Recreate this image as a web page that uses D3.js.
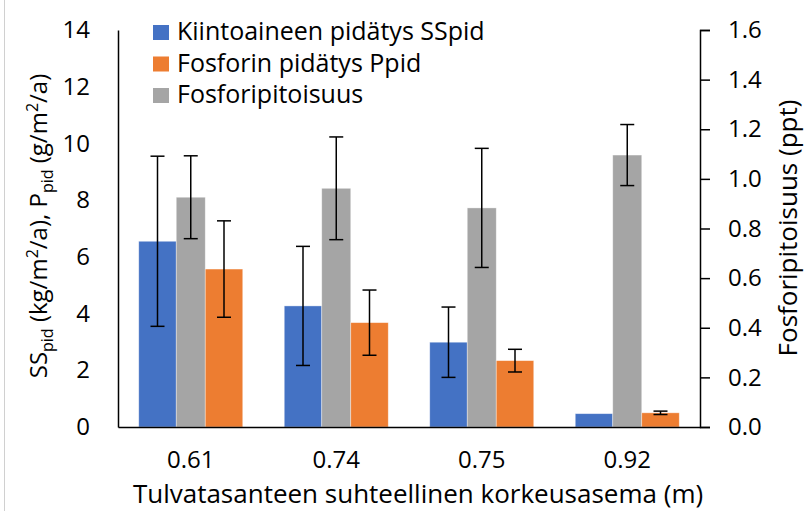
<!doctype html>
<html lang="en">
<head>
  <meta charset="utf-8">
  <script src="https://d3js.org/d3.v7.min.js"></script>
  <style>
    body { margin: 0; background: #fff; }
    text { font-family: "Open Sans", sans-serif; fill: #000; }
  </style>
</head>
<body>
  <script>
    // data
    var categories = ["0.61", "0.74", "0.75", "0.92"];
    var ssPid    = [6.55, 4.27, 2.99, 0.47];   // kg/m2/a
    var ssErr    = [3.0, 2.1, 1.24, 0];
    var pPid     = [5.57, 3.68, 2.34, 0.5];    // g/m2/a
    var pErr     = [1.7, 1.15, 0.4, 0.06];
    var pContent = [0.926, 0.962, 0.883, 1.096]; // ppt
    var pContErr = [0.167, 0.207, 0.24, 0.123];
    var leftTicks  = [0, 2, 4, 6, 8, 10, 12, 14];
    var rightTicks = [0, 0.2, 0.4, 0.6, 0.8, 1.0, 1.2, 1.4, 1.6];
    var legendNames = ["Kiintoaineen pidätys SSpid", "Fosforin pidätys Ppid", "Fosforipitoisuus"];
    var legendColors = ["#4472C4", "#ED7D31", "#A5A5A5"];

    var width = 807, height = 511;
    var plotLeft = 118, plotRight = 700, plotTop = 30, plotBottom = 427;

    var svg = d3.select("body").append("svg")
        .attr("width", width)
        .attr("height", height);

    // faint frame line at the left edge
    svg.append("line")
        .attr("x1", 4.5).attr("x2", 4.5)
        .attr("y1", 0).attr("y2", height)
        .style("stroke", "#d0d0d0");

    var x = d3.scaleBand()
        .domain(categories)
        .range([plotLeft, plotRight]);

    var y = d3.scaleLinear().domain([0, 14]).range([plotBottom, plotTop]);
    var y2 = d3.scaleLinear().domain([0, 1.6]).range([plotBottom, plotTop]);

    var wideBar = 37.5, narrowBar = 29, cap = 14;

    function center(c) { return x(c) + x.bandwidth() / 2; }

    var g = svg.append("g");

    function bars(vals, scale, offset, w, color) {
      g.append("g").selectAll("rect").data(categories).enter().append("rect")
          .attr("x", function(d) { return center(d) + offset - w / 2; })
          .attr("y", function(d, i) { return scale(vals[i]); })
          .attr("width", w)
          .attr("height", function(d, i) { return plotBottom - scale(vals[i]); })
          .style("fill", color)
          .style("stroke", "#fff")
          .style("stroke-opacity", 0.5)
          .style("stroke-width", 0.75);
    }
    bars(ssPid, y, -narrowBar / 2 - wideBar / 2, wideBar, legendColors[0]);
    bars(pContent, y2, 0, narrowBar, legendColors[2]);
    bars(pPid, y, narrowBar / 2 + wideBar / 2, wideBar, legendColors[1]);

    // error bars
    function errorBars(vals, errs, scale, offset) {
      categories.forEach(function(c, i) {
        if (!errs[i]) return;
        var cx = center(c) + offset;
        var y1 = scale(vals[i] + errs[i]), y0 = scale(vals[i] - errs[i]);
        var e = g.append("g").style("stroke", "#000").style("stroke-width", 1.5);
        e.append("line").attr("x1", cx).attr("x2", cx).attr("y1", y1).attr("y2", y0);
        e.append("line").attr("x1", cx - cap / 2).attr("x2", cx + cap / 2).attr("y1", y1).attr("y2", y1);
        e.append("line").attr("x1", cx - cap / 2).attr("x2", cx + cap / 2).attr("y1", y0).attr("y2", y0);
      });
    }
    errorBars(ssPid, ssErr, y, -narrowBar / 2 - wideBar / 2);
    errorBars(pContent, pContErr, y2, 0);
    errorBars(pPid, pErr, y, narrowBar / 2 + wideBar / 2);

    // axes
    var axisStyle = function(sel) {
      sel.select(".domain").style("stroke", "#000").style("stroke-width", 1.5);
      sel.selectAll(".tick line").style("stroke", "#000").style("stroke-width", 1.5);
      sel.selectAll("text").style("font-family", "'Open Sans', sans-serif")
          .style("font-size", "24px").style("fill", "#000");
    };

    svg.append("g")
        .attr("transform", "translate(" + plotLeft + ",0)")
        .call(d3.axisLeft(y).tickValues(leftTicks).tickSize(0).tickPadding(28))
        .call(axisStyle);

    svg.append("g")
        .attr("transform", "translate(" + plotRight + ",0)")
        .call(d3.axisRight(y2).tickValues(rightTicks).tickSizeInner(10).tickSizeOuter(10)
              .tickPadding(18).tickFormat(d3.format(".1f")))
        .call(axisStyle);

    svg.append("g")
        .attr("transform", "translate(0," + plotBottom + ")")
        .call(d3.axisBottom(x).tickSize(0).tickPadding(24))
        .call(axisStyle);

    // axis titles
    svg.append("text")
        .attr("x", 418)
        .attr("y", 503)
        .attr("text-anchor", "middle")
        .style("font-size", "26px")
        .text("Tulvatasanteen suhteellinen korkeusasema (m)");

    svg.append("text")
        .attr("transform", "translate(797,228) rotate(-90)")
        .attr("text-anchor", "middle")
        .style("font-size", "26px")
        .text("Fosforipitoisuus (ppt)");

    var lt = svg.append("text")
        .attr("transform", "translate(47,226) rotate(-90)")
        .attr("text-anchor", "middle")
        .style("font-size", "24px");
    lt.append("tspan").text("SS");
    lt.append("tspan").attr("dy", 6).style("font-size", "16px").text("pid");
    lt.append("tspan").attr("dy", -6).text(" (kg/m");
    lt.append("tspan").attr("dy", -9).style("font-size", "16px").text("2");
    lt.append("tspan").attr("dy", 9).text("/a), P");
    lt.append("tspan").attr("dy", 6).style("font-size", "16px").text("pid");
    lt.append("tspan").attr("dy", -6).text(" (g/m");
    lt.append("tspan").attr("dy", -9).style("font-size", "16px").text("2");
    lt.append("tspan").attr("dy", 9).text("/a)");

    // legend
    var lg = svg.append("g").attr("transform", "translate(153,25)");
    legendNames.forEach(function(n, i) {
      lg.append("rect").attr("x", 0).attr("y", i * 31.5).attr("width", 16).attr("height", 15)
          .style("fill", legendColors[i]);
      lg.append("text").attr("x", 24).attr("y", i * 31.5 + 15)
          .style("font-size", "25px").text(n);
    });
  </script>
</body>
</html>
